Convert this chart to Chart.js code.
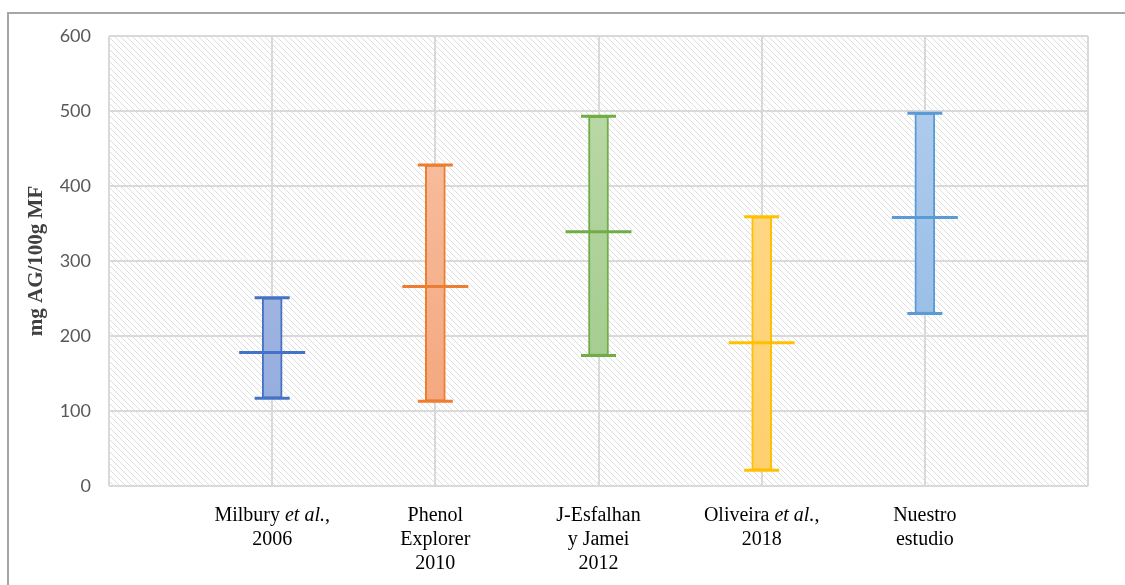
<!DOCTYPE html>
<html>
<head>
<meta charset="utf-8">
<script src="https://cdn.jsdelivr.net/npm/chart.js@4.4.1/dist/chart.umd.min.js"></script>
<style>
  html, body { margin: 0; padding: 0; background: #fff; }
  #wrap { width: 1125px; height: 585px; }
</style>
</head>
<body>
<div id="wrap"><canvas id="chart" width="1125" height="585"></canvas></div>
<script>
// data (mg AG/100g MF)
const categories = ['', 'Milbury et al., 2006', 'Phenol Explorer 2010', 'J-Esfalhan y Jamei 2012', 'Oliveira et al., 2018', 'Nuestro estudio', ''];
const labelLines = [
  [],
  ['Milbury et al.,', '2006'],
  ['Phenol', 'Explorer', '2010'],
  ['J-Esfalhan', 'y Jamei', '2012'],
  ['Oliveira et al.,', '2018'],
  ['Nuestro', 'estudio'],
  []
];
const minValues = [null, 117, 113, 174, 21, 230, null];
const maxValues = [null, 251, 428, 493, 359, 497, null];
const meanValues = [null, 178, 266, 339, 191, 358, null];
const yTicks = [0, 100, 200, 300, 400, 500, 600];

const lineColors = [null, '#4472C4', '#ED7D31', '#70AD47', '#FFC000', '#5B9BD5', null];
const fillTop = [null, '#b6c4e7', '#f8c6aa', '#bedbab', '#ffdd92', '#b5d0ee'];
const fillBottom = [null, '#8ea8dc', '#f3a277', '#9cc787', '#ffcf6c', '#8bb4e3'];

// hatch pattern for plot background
function makeHatch() {
  const c = document.createElement('canvas');
  c.width = 6; c.height = 6;
  const g = c.getContext('2d');
  g.strokeStyle = '#dedede';
  g.lineWidth = 1;
  g.beginPath();
  g.moveTo(-1, -1); g.lineTo(7, 7);
  g.moveTo(5, -1); g.lineTo(7, 1);
  g.moveTo(-1, 5); g.lineTo(1, 7);
  g.stroke();
  return g.createPattern(c, 'repeat');
}

const bgPlugin = {
  id: 'bg',
  beforeDraw(chart) {
    const { ctx, chartArea: a } = chart;
    ctx.save();
    ctx.strokeStyle = '#a6a6a6';
    ctx.lineWidth = 2;
    ctx.strokeRect(8, 13, 1200, 700);
    ctx.fillStyle = makeHatch();
    ctx.fillRect(a.left, a.top, a.right - a.left, a.bottom - a.top);
    ctx.restore();
  }
};

// category labels, with "et al." in italic
const xLabelPlugin = {
  id: 'xlabels',
  afterDraw(chart) {
    const { ctx } = chart;
    const x = chart.scales.x;
    const normal = '20px "Liberation Serif", "Times New Roman", serif';
    const italic = 'italic 20px "Liberation Serif", "Times New Roman", serif';
    ctx.save();
    ctx.fillStyle = '#000';
    ctx.textBaseline = 'middle';
    ctx.textAlign = 'left';
    labelLines.forEach((lines, i) => {
      const cx = x.getPixelForValue(i);
      lines.forEach((line, j) => {
        const y = 516 + j * 24;
        const k = line.indexOf('et al.');
        let parts = k < 0 ? [[line, normal]] :
          [[line.slice(0, k), normal], ['et al.', italic], [line.slice(k + 6), normal]];
        let w = 0;
        parts.forEach(p => { ctx.font = p[1]; w += ctx.measureText(p[0]).width; });
        let px = cx - w / 2;
        parts.forEach(p => {
          ctx.font = p[1];
          ctx.fillText(p[0], px, y);
          px += ctx.measureText(p[0]).width;
        });
      });
    });
    ctx.restore();
  }
};

function barFill(context) {
  const i = context.dataIndex;
  const area = context.chart.chartArea;
  if (!area || !fillTop[i]) return 'transparent';
  const g = context.chart.ctx.createLinearGradient(0, area.top, 0, area.bottom);
  g.addColorStop(0, fillTop[i]);
  g.addColorStop(1, fillBottom[i]);
  return g;
}

const ranges = minValues.map((v, i) => v === null ? null : [v, maxValues[i]]);

new Chart(document.getElementById('chart'), {
  type: 'bar',
  data: {
    labels: categories,
    datasets: [
      {
        type: 'line',
        data: meanValues,
        showLine: false,
        pointStyle: 'line',
        pointRadius: 33,
        pointBorderWidth: 3,
        pointBorderColor: lineColors,
        order: 1
      },
      {
        type: 'line',
        data: maxValues,
        showLine: false,
        pointStyle: 'line',
        pointRadius: 17.5,
        pointBorderWidth: 3,
        pointBorderColor: lineColors,
        order: 1
      },
      {
        type: 'line',
        data: minValues,
        showLine: false,
        pointStyle: 'line',
        pointRadius: 17.5,
        pointBorderWidth: 3,
        pointBorderColor: lineColors,
        order: 1
      },
      {
        data: ranges,
        backgroundColor: barFill,
        borderColor: lineColors,
        borderWidth: 2,
        borderSkipped: false,
        barThickness: 20,
        order: 2
      }
    ]
  },
  options: {
    responsive: false,
    animation: false,
    events: [],
    layout: { padding: { left: 0, top: 35, right: 37, bottom: 99 } },
    plugins: {
      legend: { display: false },
      tooltip: { enabled: false }
    },
    scales: {
      x: {
        type: 'category',
        offset: false,
        grid: { offset: false, color: '#d9d9d9', lineWidth: 2, drawTicks: false },
        border: { display: false },
        ticks: { display: false }
      },
      y: {
        min: 0,
        max: 600,
        afterFit(scale) { scale.width = 109; },
        afterBuildTicks(scale) { scale.ticks = yTicks.map(v => ({ value: v })); },
        grid: { color: '#d9d9d9', lineWidth: 2, drawTicks: false },
        border: { display: false },
        ticks: {
          padding: 18,
          color: '#595959',
          font: { family: 'Lato, "Open Sans", sans-serif', size: 18 }
        },
        title: {
          display: true,
          text: 'mg AG/100g MF',
          color: '#404040',
          padding: { top: 24, bottom: 0 },
          font: { family: '"Liberation Serif", "Times New Roman", serif', size: 21, weight: 'bold' }
        }
      }
    }
  },
  plugins: [bgPlugin, xLabelPlugin]
});
</script>
</body>
</html>
